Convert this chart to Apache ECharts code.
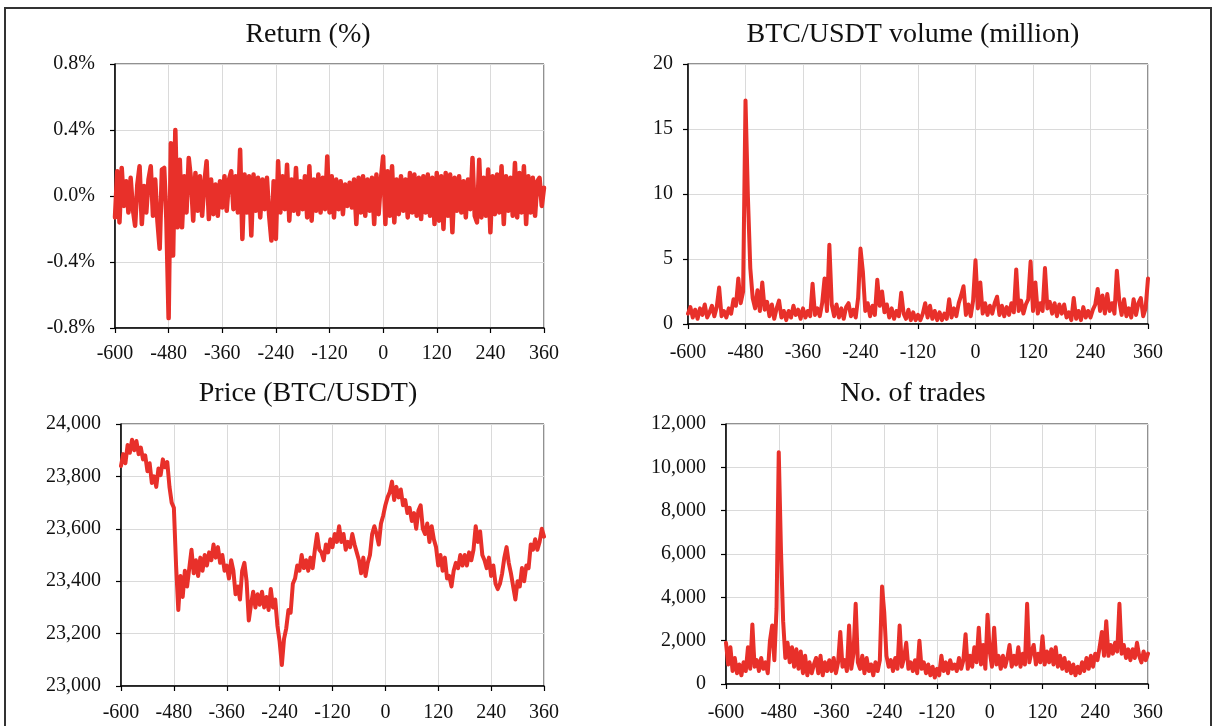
<!DOCTYPE html>
<html lang="en">
<head>
<meta charset="UTF-8">
<title>BTC/USDT around the event</title>
<script src="https://cdn.jsdelivr.net/npm/echarts@6/dist/echarts.min.js"></script>
<style>
    html, body { margin: 0; padding: 0; background: #fff; }
    #main { width: 1212px; height: 726px; }
</style>
</head>
<body>
<div id="main"></div>
<script type="text/javascript">
// minutes relative to the event, one reading every 5 minutes
var minuteStart = -600;
var minuteStep = 5;
var xTicks = [-600, -480, -360, -240, -120, 0, 120, 240, 360];

// Return (%) - rows of one hour each
var returnPct = [
    -0.13, 0.15, -0.16, 0.17, -0.06, 0.09, -0.10, 0.11, -0.08, -0.18, 0.07, 0.18,
    -0.17, 0.06, -0.10, 0.10, 0.18, -0.12, 0.10, -0.15, -0.32, 0.16, 0.17, -0.14,
    -0.74, 0.32, -0.36, 0.40, -0.19, 0.22, -0.19, 0.12, -0.10, 0.23, 0.10, -0.15,
    0.14, -0.09, 0.12, -0.12, 0.08, 0.21, -0.14, 0.10, -0.11, 0.07, -0.12, 0.09,
    -0.07, 0.12, -0.09, 0.10, 0.15, -0.08, 0.12, -0.10, 0.28, -0.26, 0.13, -0.10,
    0.12, -0.24, 0.13, -0.09, 0.11, -0.13, 0.10, -0.08, 0.11, -0.12, -0.27, 0.09,
    -0.26, 0.21, -0.10, 0.12, -0.08, 0.19, -0.15, 0.10, -0.09, 0.17, -0.11, 0.09,
    -0.08, 0.12, -0.13, 0.18, -0.15, 0.10, -0.09, 0.13, -0.10, 0.11, -0.08, 0.24,
    -0.10, 0.12, -0.13, 0.10, -0.08, 0.09, -0.11, 0.07, -0.06, 0.08, -0.07, 0.10,
    -0.17, 0.11, -0.10, 0.12, -0.12, 0.10, -0.09, 0.11, -0.17, 0.13, -0.11, 0.10,
    0.24, -0.17, 0.15, -0.12, 0.18, -0.16, 0.10, -0.11, 0.12, -0.09, 0.10, -0.13,
    0.14, -0.10, 0.13, -0.12, 0.11, -0.14, 0.12, -0.10, 0.13, -0.12, 0.11, -0.17,
    0.14, -0.15, 0.12, -0.20, 0.14, -0.12, 0.13, -0.22, 0.11, -0.09, 0.12, -0.10,
    0.09, -0.13, 0.10, -0.08, 0.23, -0.12, -0.16, 0.22, -0.13, 0.11, -0.12, 0.16,
    -0.22, 0.12, -0.11, 0.13, -0.10, 0.18, -0.17, 0.12, -0.09, 0.11, -0.12, 0.20,
    -0.13, 0.14, -0.10, 0.18, -0.17, 0.12, -0.10, 0.11, -0.12, 0.09, 0.11, -0.06,
    0.05
];

// BTC/USDT volume (million)
var volumeMn = [
    0.8, 1.3, 0.5, 1.1, 0.4, 1.2, 0.7, 1.5, 0.5, 0.9, 1.4, 0.6,
    1.3, 2.8, 0.6, 1.0, 0.5, 1.2, 0.8, 1.9, 1.4, 3.5, 1.6, 2.5,
    17.2, 9.8, 4.3, 2.0, 1.2, 2.6, 1.0, 3.2, 1.1, 1.7, 0.6, 1.5,
    0.4, 1.2, 1.8, 0.5, 1.0, 0.3, 1.0, 0.5, 1.4, 0.7, 1.1, 0.4,
    1.2, 0.5, 1.0, 0.6, 3.1, 0.7, 1.2, 0.6, 1.6, 3.5, 1.0, 6.1,
    1.5, 0.6, 1.5, 0.5, 1.2, 0.4, 1.3, 1.6, 0.6, 1.1, 0.5, 2.0,
    5.8, 4.0, 1.0, 1.6, 0.6, 1.4, 0.7, 3.4, 1.4, 2.5, 0.9, 1.5,
    0.5, 1.2, 0.4, 1.0, 0.6, 2.4, 0.8, 0.4, 1.1, 0.3, 0.9, 0.3,
    0.7, 0.3, 0.8, 1.6, 0.5, 1.4, 0.4, 1.0, 0.3, 0.9, 0.3, 0.8,
    0.4, 1.9, 0.5, 1.2, 0.6, 1.6, 2.2, 2.9, 0.7, 1.5, 0.6, 1.8,
    4.9, 1.2, 3.2, 0.8, 1.6, 0.7, 1.4, 0.8, 1.6, 2.1, 0.7, 1.4,
    0.6, 1.3, 0.7, 1.6, 0.9, 4.2, 1.0, 1.8, 0.8, 1.5, 1.9, 4.8,
    1.0, 3.2, 0.8, 1.6, 1.0, 4.3, 1.2, 1.7, 0.8, 1.6, 0.6, 1.5,
    0.8, 1.5, 0.5, 0.9, 0.3, 2.0, 0.4, 1.0, 0.3, 1.3, 0.5, 1.0,
    0.5, 1.1, 1.5, 2.7, 1.0, 2.2, 0.8, 2.3, 1.0, 1.6, 0.8, 4.1,
    1.8, 0.7, 1.9, 0.6, 1.2, 0.5, 1.9, 0.7, 1.6, 2.0, 0.6, 1.2,
    3.5
];

// Price (BTC/USDT)
var price = [
    23840, 23885, 23850, 23920, 23890, 23940, 23900, 23935, 23885, 23910, 23865, 23880,
    23820, 23850, 23775, 23800, 23760, 23830, 23805, 23865, 23835, 23855, 23760, 23700,
    23680, 23460, 23290, 23420, 23340, 23440, 23380, 23450, 23520, 23430, 23480, 23420,
    23490, 23440, 23500, 23460, 23510, 23480, 23540, 23490, 23530, 23470, 23500, 23440,
    23460, 23410, 23480, 23440, 23350, 23380, 23330, 23440, 23470, 23400, 23250, 23310,
    23360, 23300, 23350, 23310, 23360, 23300, 23340, 23290, 23370, 23300, 23330, 23230,
    23170, 23080, 23180, 23220, 23290, 23280, 23390, 23410, 23460, 23440, 23500, 23450,
    23480, 23440, 23490, 23450, 23520, 23580, 23520, 23510, 23480, 23540, 23510, 23560,
    23530, 23580, 23550, 23610, 23550, 23580, 23520, 23550, 23530, 23580, 23540, 23510,
    23480, 23430, 23490, 23420, 23470, 23500, 23580, 23610, 23580, 23540, 23620, 23650,
    23690, 23720, 23740, 23780, 23710, 23760, 23720, 23750, 23690, 23710, 23660, 23680,
    23630, 23660, 23600, 23670, 23690, 23600, 23580, 23620, 23550, 23610, 23560, 23530,
    23460, 23500, 23440, 23490, 23410, 23420, 23380, 23440, 23470, 23450, 23500, 23460,
    23500, 23460, 23510, 23480, 23520, 23610, 23550, 23590, 23500, 23480, 23450, 23490,
    23420, 23460, 23390, 23370, 23390, 23430, 23490, 23530, 23470, 23430, 23380, 23330,
    23400, 23380, 23450, 23400, 23460, 23450, 23540, 23520, 23560, 23520, 23550, 23600,
    23570
];

// No. of trades
var trades = [
    1900, 900, 1700, 600, 1200, 500, 900, 400, 1000, 600, 1700, 700,
    2750, 800, 1100, 600, 1200, 700, 1000, 500, 2000, 2700, 1100, 3500,
    10700, 6200, 2900, 1200, 1900, 1000, 1700, 800, 1600, 700, 1500, 500,
    1300, 400, 1000, 500, 900, 1200, 500, 1300, 400, 1000, 600, 1100,
    600, 1200, 500, 1000, 2400, 800, 1100, 600, 2700, 700, 1400, 3700,
    1000, 700, 1300, 500, 1200, 600, 900, 400, 1000, 600, 1100, 4500,
    3300, 1300, 800, 1100, 600, 1200, 700, 2700, 800, 1200, 1900, 700,
    1000, 600, 1100, 500, 2000, 700, 1000, 500, 900, 400, 800, 300,
    700, 400, 1300, 600, 1000, 500, 1100, 700, 900, 600, 1200, 700,
    1100, 2300, 700, 1300, 800, 1700, 1000, 2600, 900, 1800, 700, 3200,
    1500, 800, 2600, 900, 1300, 700, 1300, 800, 1200, 1800, 800, 1300,
    900, 1700, 800, 1400, 900, 3700, 1000, 1500, 1800, 900, 1400, 1000,
    2200, 900, 1500, 1000, 1600, 900, 1700, 800, 1300, 700, 1200, 600,
    1000, 500, 900, 400, 800, 500, 1000, 600, 1200, 700, 1300, 800,
    1400, 1100, 1700, 2400, 1300, 2900, 1300, 1800, 1400, 1900, 1500, 3700,
    1400, 1800, 1200, 1600, 1100, 1600, 1200, 1900, 1300, 1000, 1500, 1100,
    1400
];

var FONT = "'Liberation Serif', 'Times New Roman', serif";
var RED = '#e8302a';

function pairs(values) {
    var out = [];
    for (var i = 0; i < values.length; i++) {
        out.push([minuteStart + i * minuteStep, values[i]]);
    }
    return out;
}
function commas(v) { return Math.round(v).toLocaleString('en-US'); }
function pct(v) { return (Math.abs(v) < 1e-9 ? 0 : v).toFixed(1) + '%'; }

var panels = [
    { title: 'Return (%)', values: returnPct, min: -0.8, max: 0.8, step: 0.4, fmt: pct, lw: 4.5,
      grid: { left: 115, top: 64, width: 429, height: 264 }, titleX: 308, titleTop: 21, xMargin: 16, yMargin: 20 },
    { title: 'BTC/USDT volume (million)', values: volumeMn, min: 0, max: 20, step: 5, fmt: null, lw: 4,
      grid: { left: 688, top: 64, width: 460, height: 260 }, titleX: 913, titleTop: 21, xMargin: 19, yMargin: 15 },
    { title: 'Price (BTC/USDT)', values: price, min: 23000, max: 24000, step: 200, fmt: commas, lw: 4,
      grid: { left: 121, top: 424, width: 423, height: 262 }, titleX: 308, titleTop: 380, xMargin: 17, yMargin: 20 },
    { title: 'No. of trades', values: trades, min: 0, max: 12000, step: 2000, fmt: commas, lw: 4,
      grid: { left: 726, top: 424, width: 422, height: 260 }, titleX: 913, titleTop: 380, xMargin: 19, yMargin: 20 }
];

var option = {
    animation: false,
    backgroundColor: '#fff',
    title: [], grid: [], xAxis: [], yAxis: [], series: [],
    graphic: [{
        type: 'rect',
        shape: { x: 5, y: 8, width: 1206, height: 740 },
        style: { fill: 'none', stroke: '#333', lineWidth: 2 },
        silent: true
    }]
};

panels.forEach(function (p, i) {
    option.title.push({
        text: p.title, left: p.titleX, top: p.titleTop, textAlign: 'center', padding: 0,
        textStyle: { fontFamily: FONT, fontSize: 28, fontWeight: 'normal', color: '#111' }
    });
    option.grid.push({
        left: p.grid.left, top: p.grid.top, width: p.grid.width, height: p.grid.height,
        show: true, borderColor: '#222', borderWidth: 1, backgroundColor: 'transparent'
    });
    option.xAxis.push({
        type: 'value', gridIndex: i, min: xTicks[0], max: xTicks[xTicks.length - 1], interval: 120,
        axisLine: { show: true, onZero: false, lineStyle: { color: '#000', width: 1.5 } },
        axisTick: { show: true, length: 5, lineStyle: { color: '#000', width: 1.2 } },
        axisLabel: { color: '#111', fontSize: 20, fontFamily: FONT, margin: p.xMargin },
        splitLine: { show: true, lineStyle: { color: '#dadada', width: 1 } }
    });
    option.yAxis.push({
        type: 'value', gridIndex: i, min: p.min, max: p.max, interval: p.step,
        axisLine: { show: true, onZero: false, lineStyle: { color: '#000', width: 1.5 } },
        axisTick: { show: true, length: 5, lineStyle: { color: '#000', width: 1.2 } },
        axisLabel: { color: '#111', fontSize: 20, fontFamily: FONT, margin: p.yMargin,
                     formatter: p.fmt || function (v) { return String(v); } },
        splitLine: { show: true, lineStyle: { color: '#dadada', width: 1 } }
    });
    option.series.push({
        name: p.title, type: 'line', xAxisIndex: i, yAxisIndex: i,
        data: pairs(p.values), showSymbol: false, symbol: 'none',
        lineStyle: { color: RED, width: p.lw, join: 'round', cap: 'round' }, itemStyle: { color: RED }
    });
});

var myChart = echarts.init(document.getElementById('main'));
myChart.setOption(option);
</script>
</body>
</html>
